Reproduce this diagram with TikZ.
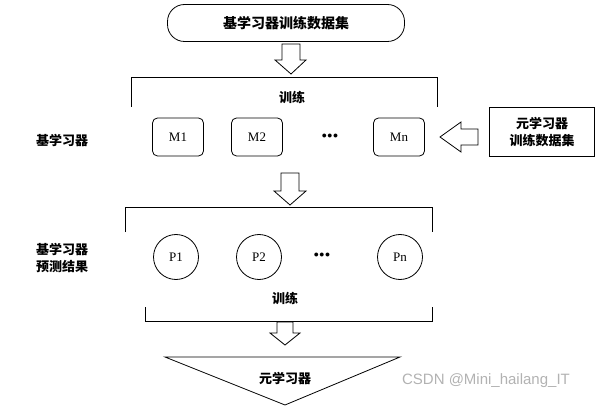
\documentclass[tikz,border=0pt]{standalone}
\usepackage{fontspec}
\setmainfont{Liberation Serif}
\newfontfamily\cjk{Noto Sans CJK SC}
\newfontfamily\wm{Liberation Sans}
\begin{document}
\begin{tikzpicture}[x=1pt,y=-1pt,
  line width=0.8pt,
  zh/.style={font=\cjk\bfseries\fontsize{13}{17}\selectfont},
  mbox/.style={draw,rounded corners=5pt,minimum width=51pt,minimum height=38pt,font=\fontsize{13}{15}\selectfont},
  pc/.style={draw,circle,minimum size=45pt,inner sep=0pt,font=\fontsize{13}{15}\selectfont}]
\useasboundingbox (0,0) rectangle (600,409);
\node[draw,rounded corners=17pt,minimum width=237pt,minimum height=37pt,font=\cjk\bfseries\fontsize{14}{16}\selectfont] (top) at (286,23) {基学习器训练数据集};
% down arrow 1
\draw[fill=white] (282,44) -- (300,44) -- (300,60) -- (306,60) -- (291,74) -- (275,60) -- (282,60) -- cycle;
\draw (131,107) -- (131,77) coordinate (b1l) -- (437,77) coordinate (b1r) -- (437,107);
\node[zh] (t1) at (292,97) {训练};
\node[zh] (l1) at (62,140) {基学习器};
\node[mbox] (m1) at (178,137) {M1};
\node[mbox] (m2) at (257,137) {M2};
\node (d1) at (330,136) {$\bullet\!\bullet\!\bullet$};
\node[mbox] (mn) at (399,137) {Mn};
% left arrow
\draw[fill=white] (478,129) -- (461,129) -- (461,122) -- (440,137) -- (461,152) -- (461,145) -- (478,145) -- cycle;
\node[draw,minimum width=105pt,minimum height=49pt,zh,align=center] (meta) at (542,132) {元学习器\\训练数据集};
% down arrow 2
\draw[fill=white] (281,173) -- (299,173) -- (299,191) -- (306,191) -- (290,205) -- (274,191) -- (281,191) -- cycle;
\draw (125,232) -- (125,207) -- (432,207) -- (432,232);
\node[zh,align=left] (l2) at (62,258) {基学习器\\预测结果};
\node[pc] (p1) at (176,257) {P1};
\node[pc] (p2) at (259,257) {P2};
\node (d2) at (322,255) {$\bullet\!\bullet\!\bullet$};
\node[pc] (pn) at (400,257) {Pn};
\node[zh] (t2) at (285,298) {训练};
\draw (145,307) -- (145,321) -- (432,321) -- (432,307);
% down arrow 3
\draw[fill=white] (277,322) -- (293,322) -- (293,333) -- (300,333) -- (285,345) -- (270,333) -- (277,333) -- cycle;
\draw (165,357) coordinate (tl) -- (400,357) coordinate (tr) -- (285,405) coordinate (tb) -- cycle;
\node[zh] (t3) at (285,378) {元学习器};
\node[text=gray!60,font=\wm\fontsize{15}{17}\selectfont] (w) at (486,381) {CSDN @Mini\_hailang\_IT};
\end{tikzpicture}
\end{document}
